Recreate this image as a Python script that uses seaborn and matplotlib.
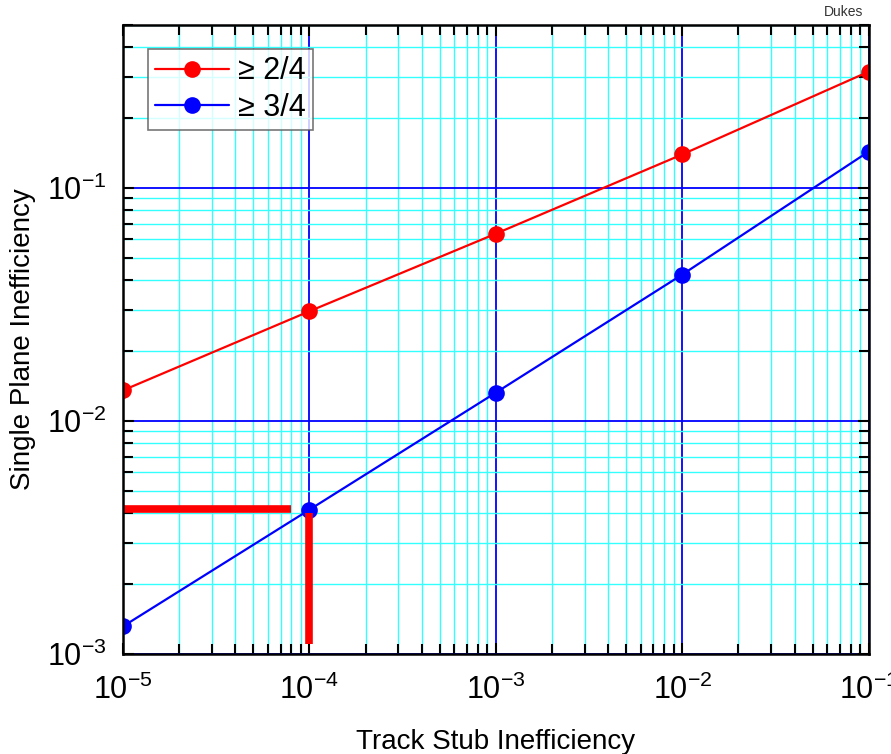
import numpy as np
import pandas as pd
import matplotlib
matplotlib.use("Agg")
import matplotlib.pyplot as plt
import seaborn as sns
from matplotlib.ticker import LogLocator, NullFormatter

# values
stub_ineff = [1e-5, 1e-4, 1e-3, 1e-2, 1e-1]
ge_2of4 = [0.0135, 0.0295, 0.0635, 0.139, 0.315]
ge_3of4 = [0.00131, 0.00415, 0.0132, 0.0424, 0.143]
series_names = ["\u2265 2/4", "\u2265 3/4"]
series_colors = ["red", "blue"]

# thick red marker lines (operating point)
hline_x = [1e-5, 8.0e-5]
hline_y = [0.0042, 0.0042]
vline_x = [1e-4, 1e-4]
vline_y = [0.0040, 0.00110]

sns.set_style("white")
plt.rcParams['font.family'] = ['Liberation Sans', 'DejaVu Sans']
plt.rcParams['mathtext.fontset'] = 'custom'
plt.rcParams['mathtext.rm'] = 'Liberation Sans'
plt.rcParams['mathtext.it'] = 'Liberation Sans'
plt.rcParams['text.color'] = 'black'
plt.rcParams['axes.labelcolor'] = 'black'
plt.rcParams['xtick.color'] = 'black'
plt.rcParams['ytick.color'] = 'black'

df = pd.DataFrame({
    "x": stub_ineff * 2,
    "y": ge_2of4 + ge_3of4,
    "series": [series_names[0]] * len(stub_ineff) + [series_names[1]] * len(stub_ineff),
})

fig = plt.figure(figsize=(8.91, 7.54), dpi=100)
ax = fig.add_axes([0.138, 0.133, 0.837, 0.834])
ax.set_xscale("log")
ax.set_yscale("log")

sns.lineplot(data=df, x="x", y="y", hue="series", palette=series_colors,
             marker="o", markersize=12, markeredgewidth=0, linewidth=1.6,
             ax=ax, zorder=4)

ax.plot(hline_x, hline_y, color="red", lw=5.5, solid_capstyle="butt", zorder=5)
ax.plot(vline_x, vline_y, color="red", lw=5.5, solid_capstyle="butt", zorder=5)

ax.set_xlim(1e-5, 1e-1)
ax.set_ylim(1e-3, 0.5)

ax.xaxis.set_major_locator(LogLocator(base=10, numticks=10))
ax.xaxis.set_minor_locator(LogLocator(base=10, subs=np.arange(2, 10), numticks=20))
ax.yaxis.set_major_locator(LogLocator(base=10, numticks=10))
ax.yaxis.set_minor_locator(LogLocator(base=10, subs=np.arange(2, 10), numticks=20))
ax.xaxis.set_minor_formatter(NullFormatter())
ax.yaxis.set_minor_formatter(NullFormatter())

ax.grid(which="minor", color="#33ffff", lw=1.0, zorder=0)
ax.grid(which="major", color="blue", lw=1.3, zorder=1)
ax.set_axisbelow(True)

ax.tick_params(which="both", direction="in", top=True, right=True,
               bottom=True, left=True, width=1.5, color="black", labelcolor="black")
ax.tick_params(which="major", length=8, labelsize=22)
ax.tick_params(axis="x", which="major", pad=15)
ax.tick_params(axis="y", which="major", pad=12)
ax.tick_params(which="minor", length=7)
for s in ax.spines.values():
    s.set_linewidth(1.8)
    s.set_color("black")
    s.set_zorder(6)

ax.set_xlabel("Track Stub Inefficiency", fontsize=20, labelpad=17, color="black")
ax.set_ylabel("Single Plane Inefficiency", fontsize=20, labelpad=8, color="black")

handles, labels = ax.get_legend_handles_labels()
leg = ax.legend(handles, labels, loc="upper left", bbox_to_anchor=(0.033, 0.962),
                borderaxespad=0, fontsize=22, frameon=True, fancybox=False,
                edgecolor="#555555", handlelength=2.4, handletextpad=0.3,
                borderpad=0.25, labelspacing=0.2, labelcolor="black")
leg.get_frame().set_linewidth(1.2)
leg.set_zorder(7)

fig.text(0.969, 0.984, "Dukes", fontsize=10, ha="right", va="center", color="#333333")

fig.savefig("out.png", dpi=100)
